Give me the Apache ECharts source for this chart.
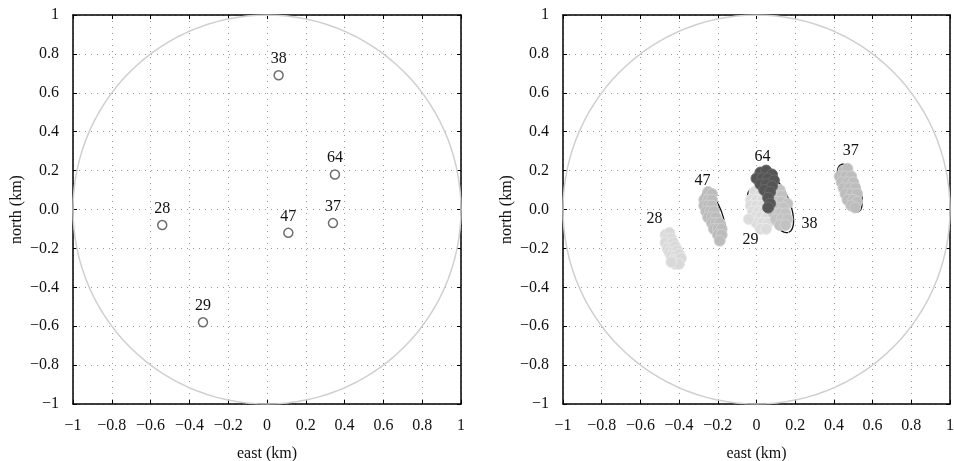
<!DOCTYPE html>
<html>
<head>
<meta charset="utf-8">
<script src="https://cdn.jsdelivr.net/npm/echarts@6/dist/echarts.min.js"></script>
<style>
  html, body { margin: 0; padding: 0; background: #fff; }
  #main { width: 954px; height: 461px; }
</style>
</head>
<body>
<div id="main"></div>
<script>
// tick labels
const xTickLabels = ['\u22121', '\u22120.8', '\u22120.6', '\u22120.4', '\u22120.2', '0', '0.2', '0.4', '0.6', '0.8', '1'];
const yTickLabels = ['\u22121', '\u22120.8', '\u22120.6', '\u22120.4', '\u22120.2', '0.0', '0.2', '0.4', '0.6', '0.8', '1'];

// left panel: station positions (east, north)
const stationNames = ['38', '64', '37', '47', '28', '29'];
const stationEast = [0.06, 0.35, 0.34, 0.11, -0.54, -0.33];
const stationNorth = [0.69, 0.18, -0.07, -0.12, -0.08, -0.58];

// right panel: estimated positions per station
const est28 = [[-0.47,-0.13],[-0.45,-0.12],[-0.46,-0.15],[-0.44,-0.15],[-0.47,-0.17],[-0.45,-0.18],[-0.43,-0.17],[-0.46,-0.20],[-0.44,-0.20],[-0.42,-0.19],[-0.45,-0.22],[-0.43,-0.22],[-0.41,-0.21],[-0.44,-0.24],[-0.42,-0.24],[-0.40,-0.23],[-0.43,-0.26],[-0.41,-0.26],[-0.39,-0.25],[-0.42,-0.28],[-0.40,-0.28],[-0.44,-0.27]];
const est29 = [[-0.01,0.09],[0.02,0.08],[-0.03,0.05],[0.00,0.05],[0.03,0.05],[-0.03,0.02],[0.00,0.02],[0.03,0.02],[-0.02,-0.01],[0.01,-0.01],[0.04,-0.01],[-0.01,-0.04],[0.02,-0.04],[0.05,-0.04],[0.00,-0.07],[0.03,-0.07],[0.06,-0.07],[0.02,-0.10],[0.05,-0.10],[-0.04,-0.05]];
const est47 = [[-0.25,0.09],[-0.23,0.08],[-0.27,0.05],[-0.25,0.05],[-0.23,0.05],[-0.27,0.02],[-0.25,0.02],[-0.23,0.02],[-0.26,-0.01],[-0.24,-0.01],[-0.22,-0.01],[-0.25,-0.04],[-0.23,-0.04],[-0.21,-0.04],[-0.23,-0.07],[-0.21,-0.07],[-0.19,-0.07],[-0.22,-0.10],[-0.20,-0.10],[-0.18,-0.10],[-0.20,-0.13],[-0.18,-0.13],[-0.19,-0.16]];
const est38 = [[0.09,0.11],[0.12,0.10],[0.07,0.07],[0.10,0.07],[0.13,0.07],[0.07,0.04],[0.10,0.04],[0.13,0.04],[0.16,0.03],[0.08,0.01],[0.11,0.01],[0.14,0.01],[0.09,-0.02],[0.12,-0.02],[0.15,-0.02],[0.10,-0.05],[0.13,-0.05],[0.16,-0.05],[0.12,-0.08],[0.15,-0.08]];
const est37 = [[0.45,0.20],[0.47,0.21],[0.43,0.17],[0.46,0.17],[0.49,0.17],[0.44,0.14],[0.47,0.14],[0.50,0.14],[0.45,0.11],[0.48,0.11],[0.51,0.11],[0.46,0.08],[0.49,0.08],[0.52,0.08],[0.47,0.05],[0.50,0.05],[0.52,0.04],[0.49,0.02],[0.51,0.01]];
const est64 = [[0.02,0.19],[0.05,0.20],[0.08,0.18],[0.00,0.16],[0.03,0.16],[0.06,0.16],[0.09,0.15],[0.02,0.13],[0.05,0.13],[0.08,0.12],[0.04,0.10],[0.07,0.09],[0.06,0.06],[0.07,0.03],[0.06,0.01]];

// error ellipses: [centreEast, centreNorth, semiMajor, semiMinor, angleDeg]
const ellipse28 = [-0.435, -0.205, 0.10, 0.035, -65];
const ellipse29 = [0.015, -0.005, 0.12, 0.05, -70];
const ellipse47 = [-0.222, -0.03, 0.13, 0.045, -70];
const ellipse38 = [0.105, 0.03, 0.16, 0.065, -67];
const ellipse37 = [0.482, 0.11, 0.13, 0.05, -70];

// right panel label positions
const labelNames = ['28', '47', '64', '29', '38', '37'];
const labelEast = [-0.525, -0.277, 0.034, -0.028, 0.276, 0.49];
const labelNorth = [-0.05, 0.147, 0.27, -0.157, -0.075, 0.30];

const serif = 'Liberation Serif';
const ink = '#111';

function ellipsePts(e) {
    const pts = [];
    const t = e[4] * Math.PI / 180;
    for (let i = 0; i <= 120; i++) {
        const a = i / 120 * 2 * Math.PI;
        const u = e[2] * Math.cos(a), v = e[3] * Math.sin(a);
        pts.push([e[0] + u * Math.cos(t) - v * Math.sin(t), e[1] + u * Math.sin(t) + v * Math.cos(t)]);
    }
    return pts;
}
const unitCircle = ellipsePts([0, 0, 1, 1, 0]);

function tickIdx(v) { return Math.round((v + 1) / 0.2); }

function mkX(gi) {
    return [{
        type: 'value', gridIndex: gi, min: -1, max: 1, interval: 0.2,
        name: 'east (km)', nameLocation: 'middle', nameGap: 42,
        nameTextStyle: { fontFamily: serif, fontSize: 16, color: ink },
        axisLine: { show: true, onZero: false, lineStyle: { color: '#000', width: 1.5 } },
        axisTick: { show: true, inside: true, length: 4, lineStyle: { color: '#000' } },
        axisLabel: { margin: 14, fontFamily: serif, fontSize: 16, color: ink,
            formatter: v => xTickLabels[tickIdx(v)] },
        splitLine: { show: true, lineStyle: { color: '#9a9a9a', type: [1, 5], width: 1 } }
    }, {
        type: 'value', gridIndex: gi, position: 'top', min: -1, max: 1, interval: 0.2,
        axisLine: { show: true, onZero: false, lineStyle: { color: '#000', width: 1.5 } },
        axisTick: { show: true, inside: true, length: 4, lineStyle: { color: '#000' } },
        axisLabel: { show: false }, splitLine: { show: false }
    }];
}
function mkY(gi) {
    return [{
        type: 'value', gridIndex: gi, min: -1, max: 1, interval: 0.2,
        name: 'north (km)', nameLocation: 'middle', nameGap: 48,
        nameTextStyle: { fontFamily: serif, fontSize: 16, color: ink },
        axisLine: { show: true, onZero: false, lineStyle: { color: '#000', width: 1.5 } },
        axisTick: { show: true, inside: true, length: 4, lineStyle: { color: '#000' } },
        axisLabel: { margin: 14, fontFamily: serif, fontSize: 16, color: ink,
            formatter: v => yTickLabels[tickIdx(v)] },
        splitLine: { show: true, lineStyle: { color: '#9a9a9a', type: [1, 5], width: 1 } }
    }, {
        type: 'value', gridIndex: gi, position: 'right', min: -1, max: 1, interval: 0.2,
        axisLine: { show: true, onZero: false, lineStyle: { color: '#000', width: 1.5 } },
        axisTick: { show: true, inside: true, length: 4, lineStyle: { color: '#000' } },
        axisLabel: { show: false }, splitLine: { show: false }
    }];
}

function circleSeries(xi, yi) {
    return {
        type: 'line', xAxisIndex: xi, yAxisIndex: yi, data: unitCircle,
        showSymbol: false, silent: true, z: 1,
        lineStyle: { color: '#cfcfcf', width: 1.5 }
    };
}
function ellipseSeries(e) {
    return {
        type: 'line', xAxisIndex: 2, yAxisIndex: 2, data: ellipsePts(e),
        showSymbol: false, silent: true, z: 2,
        lineStyle: { color: '#111', width: 1.3 }
    };
}
function cluster(data, fill, border) {
    return {
        type: 'scatter', xAxisIndex: 2, yAxisIndex: 2, data: data,
        symbol: 'circle', symbolSize: 11, z: 3,
        itemStyle: { color: fill, borderColor: border, borderWidth: 1, opacity: 1 }
    };
}

const chart = echarts.init(document.getElementById('main'));

const option = {
    animation: false,
    backgroundColor: '#fff',
    grid: [
        { left: 73, top: 15, width: 388, height: 389, containLabel: false, outerBoundsMode: 'none' },
        { left: 563, top: 15, width: 387, height: 389, containLabel: false, outerBoundsMode: 'none' }
    ],
    xAxis: mkX(0).concat(mkX(1)),
    yAxis: mkY(0).concat(mkY(1)),
    series: [
        circleSeries(0, 0),
        {
            type: 'scatter', xAxisIndex: 0, yAxisIndex: 0, z: 3,
            data: stationNames.map((n, i) => ({ name: n, value: [stationEast[i], stationNorth[i]] })),
            symbol: 'circle', symbolSize: 9,
            itemStyle: { color: '#ffffff', borderColor: '#6e6e6e', borderWidth: 1.5, opacity: 1 },
            label: { show: true, position: 'top', distance: 3, formatter: '{b}',
                fontFamily: serif, fontSize: 16, color: ink }
        },
        circleSeries(2, 2),
        ellipseSeries(ellipse28),
        ellipseSeries(ellipse29),
        ellipseSeries(ellipse47),
        ellipseSeries(ellipse38),
        ellipseSeries(ellipse37),
        cluster(est28, '#d9d9d9', '#e8e8e8'),
        cluster(est29, '#dcdcdc', '#ececec'),
        cluster(est47, '#bcbcbc', '#cfcfcf'),
        cluster(est38, '#c2c2c2', '#d2d2d2'),
        cluster(est37, '#bdbdbd', '#cfcfcf'),
        cluster(est64, '#555555', '#6a6a6a'),
        {
            type: 'scatter', xAxisIndex: 2, yAxisIndex: 2, z: 5,
            symbol: 'circle', symbolSize: 1, itemStyle: { opacity: 0 },
            data: labelNames.map((n, i) => ({ name: n, value: [labelEast[i], labelNorth[i]] })),
            label: { show: true, position: [0, 0], align: 'center', verticalAlign: 'middle',
                formatter: '{b}', fontFamily: serif, fontSize: 16, color: ink,
                textBorderWidth: 0, opacity: 1 }
        }
    ]
};

chart.setOption(option);
</script>
</body>
</html>
